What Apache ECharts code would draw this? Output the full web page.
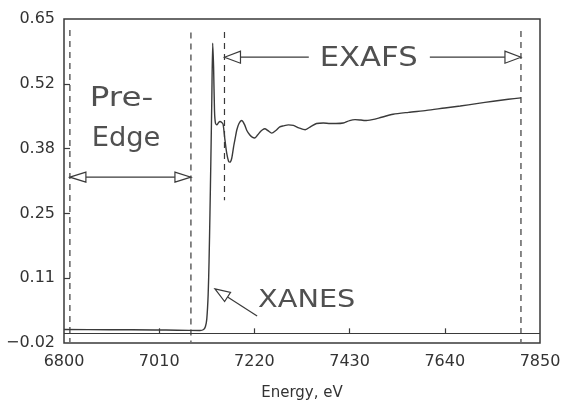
<!DOCTYPE html>
<html>
<head>
<meta charset="utf-8">
<script src="https://cdn.jsdelivr.net/npm/echarts@6/dist/echarts.min.js"></script>
<style>
  html, body { margin: 0; padding: 0; background: #fff; }
  #chart { width: 563px; height: 403px; }
</style>
</head>
<body>
<div id="chart"></div>
<script>
// X-ray absorption spectrum: photon energy (eV) vs. absorbance
const energy = [
  6800, 6900, 7000, 7050, 7100, 7108, 7112, 7115, 7118, 7120, 7122, 7124, 7126, 7128,
  7130, 7132, 7134, 7137, 7141, 7144, 7148, 7151, 7155, 7159, 7163, 7166, 7170, 7174,
  7178, 7181, 7186, 7192, 7198, 7203, 7210, 7216, 7221, 7227, 7232, 7238, 7243, 7250,
  7258, 7268, 7276, 7284, 7295, 7306, 7318, 7332, 7345, 7357, 7372, 7387, 7400, 7416,
  7430, 7442, 7455, 7464, 7480, 7494, 7526, 7560, 7600, 7640, 7674, 7710, 7747, 7780, 7808
];
const absorbance = [
  0.008, 0.0075, 0.007, 0.0065, 0.006, 0.008, 0.014, 0.03, 0.08, 0.15, 0.25, 0.36, 0.48, 0.60,
  0.55, 0.46, 0.435, 0.431, 0.436, 0.438, 0.436, 0.432, 0.40, 0.372, 0.356, 0.354, 0.362, 0.385,
  0.405, 0.42, 0.434, 0.44, 0.432, 0.42, 0.41, 0.405, 0.404, 0.41, 0.416, 0.421, 0.423, 0.419,
  0.414, 0.42, 0.427, 0.429, 0.431, 0.43, 0.425, 0.421, 0.428, 0.434, 0.435, 0.434, 0.434, 0.435,
  0.44, 0.442, 0.441, 0.44, 0.442, 0.445, 0.453, 0.457, 0.461, 0.466, 0.47, 0.475, 0.48, 0.484, 0.487
];

// Axis tick labels
const xTickLabels = [6800, 7010, 7220, 7430, 7640, 7850];
const yTickLabels = [-0.02, 0.114, 0.248, 0.382, 0.516, 0.65];

// Region boundaries: pre-edge start, absorption edge, EXAFS start, EXAFS end (eV)
const regionEdges = [6813, 7080, 7154, 7808];

const INK = '#3a3a3a';
const FONT = '"DejaVu Sans", sans-serif';

function fmtY(v) {
  const s = Math.abs(v).toFixed(2);
  return v < 0 ? '\u2212' + s : s;
}

// Hollow arrowhead polygon whose tip sits at `tip`, pointing away from `from`
function head(tip, from, len, half) {
  const dx = tip[0] - from[0], dy = tip[1] - from[1];
  const d = Math.hypot(dx, dy) || 1;
  const ux = dx / d, uy = dy / d;
  const bx = tip[0] - ux * len, by = tip[1] - uy * len;
  return {
    base: [bx, by],
    el: {
      type: 'polygon',
      shape: { points: [tip, [bx - uy * half, by + ux * half], [bx + uy * half, by - ux * half]] },
      style: { fill: '#fff', stroke: INK, lineWidth: 1.2 }
    }
  };
}

function seg(a, b, dash) {
  return {
    type: 'line',
    shape: { x1: a[0], y1: a[1], x2: b[0], y2: b[1] },
    style: { stroke: INK, lineWidth: 1.2, lineDash: dash || null }
  };
}

// Annotation text, stretched horizontally from its left anchor
function label(p, text, size, stretch) {
  return {
    type: 'text',
    x: p[0], y: p[1],
    scaleX: stretch || 1.14, originX: 0, originY: 0,
    style: {
      text: text, fontFamily: FONT, fontSize: size, fill: '#505050',
      align: 'left', verticalAlign: 'middle'
    }
  };
}

function renderAnnotations(params, api) {
  const P = (e, v) => api.coord([e, v]);
  const kids = [];

  // dashed region boundaries
  const spans = [[0.627, -0.018], [0.622, -0.018], [0.623, 0.275], [0.625, -0.018]];
  regionEdges.forEach((e, i) => {
    kids.push(seg(P(e, spans[i][0]), P(e, spans[i][1]), [6, 5]));
  });

  // Pre-edge double arrow
  const a1 = P(regionEdges[0], 0.323), a2 = P(regionEdges[1], 0.323);
  const h1 = head(a1, a2, 16, 5), h2 = head(a2, a1, 16, 5);
  kids.push(seg(h1.base, h2.base), h1.el, h2.el);
  kids.push(label(P(6857, 0.484), 'Pre-', 26, 1.25));
  kids.push(label(P(6861, 0.401), 'Edge', 26, 1.05));

  // EXAFS arrows split by the label
  const yE = 0.571;
  const t1 = P(regionEdges[2], yE), s1 = P(7340, yE);
  const t2 = P(regionEdges[3], yE), s2 = P(7607, yE);
  const e1 = head(t1, s1, 16, 6), e2 = head(t2, s2, 16, 6);
  kids.push(seg(s1, e1.base), e1.el, seg(s2, e2.base), e2.el);
  kids.push(label(P(7364, 0.567), 'EXAFS', 26, 1.18));

  // XANES pointer
  const xt = P(7133, 0.092), xs = P(7226, 0.036);
  const xh = head(xt, xs, 15, 5.5);
  kids.push(seg(xs, xh.base), xh.el);
  kids.push(label(P(7228, 0.068), 'XANES', 25, 1.15));

  return { type: 'group', children: kids };
}

const chart = echarts.init(document.getElementById('chart'), null, { renderer: 'canvas' });

chart.setOption({
  animation: false,
  backgroundColor: '#fff',
  grid: {
    left: 64, right: 23, top: 19, bottom: 60,
    outerBoundsMode: 'none', containLabel: false,
    show: true, borderColor: INK, borderWidth: 1.5, backgroundColor: 'transparent'
  },
  xAxis: {
    type: 'value', min: 6800, max: 7850,
    axisLine: { show: false },
    axisTick: {
      show: true, inside: true, length: 5,
      customValues: xTickLabels.slice(1, -1),
      lineStyle: { color: INK, width: 1.2 }
    },
    axisLabel: {
      customValues: xTickLabels, margin: 11,
      formatter: v => String(v),
      fontFamily: FONT, fontSize: 16, color: '#333'
    },
    splitLine: { show: false },
    name: 'Energy, eV', nameLocation: 'middle', nameGap: 43,
    nameTextStyle: { fontFamily: FONT, fontSize: 15, color: '#333' }
  },
  yAxis: {
    type: 'value', min: -0.02, max: 0.65,
    axisLine: { show: false },
    axisTick: {
      show: true, inside: true, length: 6,
      customValues: yTickLabels.slice(1, -1),
      lineStyle: { color: INK, width: 1.2 }
    },
    axisLabel: {
      customValues: yTickLabels, margin: 9,
      formatter: fmtY,
      fontFamily: FONT, fontSize: 16, color: '#333'
    },
    splitLine: { show: false }
  },
  series: [
    {
      type: 'line',
      data: energy.map((e, i) => [e, absorbance[i]]),
      showSymbol: false,
      smooth: 0.25,
      lineStyle: { color: INK, width: 1.4 },
      markLine: {
        silent: true, symbol: 'none', label: { show: false },
        lineStyle: { color: INK, width: 1.2, type: 'solid' },
        data: [{ yAxis: 0 }]
      },
      z: 3
    },
    {
      type: 'custom',
      data: [[6800, 0]],
      renderItem: renderAnnotations,
      silent: true,
      clip: false,
      z: 2
    }
  ]
});
</script>
</body>
</html>
